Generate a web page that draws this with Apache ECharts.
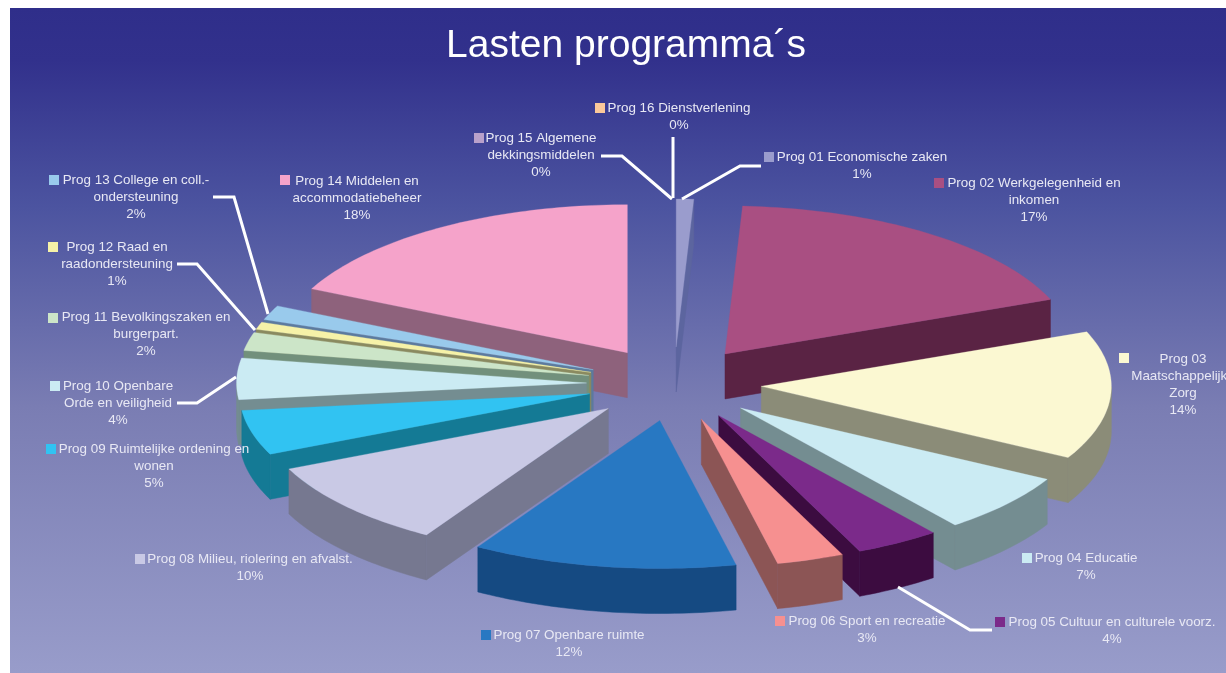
<!DOCTYPE html>
<html>
<head>
<meta charset="utf-8">
<title>Lasten programma´s</title>
<style>
  html, body { margin: 0; padding: 0; background: #fff; overflow: hidden; }
  #chart { width: 1226px; height: 673px; }
</style>
<script src="https://cdn.jsdelivr.net/npm/echarts@6/dist/echarts.min.js"></script>
</head>
<body>
<div id="chart"></div>
<script>
// slice shares, the printed percentages are kept apart
const sliceShares = [0.8, 18.2, 14.0, 6.5, 3.9, 3.1, 12.2, 9.6, 4.9, 4.5, 2.0, 0.8, 1.6, 17.9, 0, 0];
const percentLabels = ['1%', '17%', '14%', '7%', '4%', '3%', '12%', '10%', '5%', '4%', '2%', '1%', '2%', '18%', '0%', '0%'];
const categoryLines = [
  ['Prog 01 Economische zaken'],
  ['Prog 02 Werkgelegenheid en', 'inkomen'],
  ['Prog 03', 'Maatschappelijke', 'Zorg'],
  ['Prog 04 Educatie'],
  ['Prog 05 Cultuur en culturele voorz.'],
  ['Prog 06 Sport en recreatie'],
  ['Prog 07 Openbare ruimte'],
  ['Prog 08 Milieu, riolering en afvalst.'],
  ['Prog 09 Ruimtelijke ordening en', 'wonen'],
  ['Prog 10 Openbare', 'Orde en veiligheid'],
  ['Prog 11 Bevolkingszaken en', 'burgerpart.'],
  ['Prog 12 Raad en', 'raadondersteuning'],
  ['Prog 13 College en coll.-', 'ondersteuning'],
  ['Prog 14 Middelen en', 'accommodatiebeheer'],
  ['Prog 15 Algemene', 'dekkingsmiddelen'],
  ['Prog 16 Dienstverlening'],
];

const topColors = ['#9a9ccd', '#a94f82', '#fbf8d2', '#cbebf3', '#7b2a8a', '#f69090', '#2878c2', '#c9c9e5',
  '#31c3f2', '#cbebf3', '#cce5c8', '#f6f2a8', '#99caec', '#f5a3ca', '#b9a1cb', '#fbc89a'];
const wallColors = ['#5c659f', '#5a2344', '#8b8c78', '#748d91', '#3c0c40', '#8c5555', '#154a82', '#767890',
  '#147a95', '#748d91', '#72907c', '#8a8a60', '#5c7a9e', '#8e627c', '#6c6088', '#8c7a68'];

// pie projection
const CX = 674;
const CY = 384;
const RX = 350;
const RY = 148;
const EXPLODE = 0.25;
const DEPTH = 45;

// label placement: key box x, key box y, text centre x, first line y
const labelLayout = [
  [764, 152, 862, 157], [934, 178, 1034, 183], [1119, 353, 1183, 359], [1022, 553, 1086, 558],
  [995, 617, 1112, 622], [775, 616, 867, 621], [481, 630, 569, 635], [135, 554, 250, 559],
  [46, 444, 154, 449], [50, 381, 118, 386], [48, 313, 146, 317], [48, 242, 117, 247],
  [49, 175, 136, 180], [280, 175, 357, 181], [474, 133, 541, 138], [595, 103, 679, 108],
];
const leaderLines = [
  [[761, 166], [740, 166], [682, 199]],
  [[992, 630], [970, 630], [898, 587]],
  [[177, 403], [197, 403], [236, 377]],
  [[177, 264], [197, 264], [255, 330]],
  [[213, 197], [234, 197], [268, 314]],
  [[601, 156], [622, 156], [672, 199]],
  [[673, 137], [673, 198]],
];

const total = sliceShares.reduce((a, b) => a + b, 0);
const startShares = [];
sliceShares.reduce((sum, v, i) => { startShares[i] = sum; return sum + v; }, 0);
const toAngle = share => (share / total) * 2 * Math.PI;

const renderSlice = (params, api) => {
  const idx = api.value(0);
  const a0 = toAngle(startShares[idx]);
  const a1 = a0 + toAngle(api.value(1));
  const mid = (a0 + a1) / 2;
  const ax = CX + EXPLODE * RX * Math.sin(mid);
  const ay = CY - EXPLODE * RY * Math.cos(mid);
  const rim = a => [ax + RX * Math.sin(a), ay - RY * Math.cos(a)];
  const down = p => [p[0], p[1] + DEPTH];
  const apex = [ax, ay];

  const arc = [];
  const steps = Math.max(2, Math.ceil((a1 - a0) / 0.02));
  for (let i = 0; i <= steps; i++) arc.push(a0 + ((a1 - a0) * i) / steps);

  const children = [];
  const wall = points => children.push({
    type: 'polygon',
    shape: { points },
    style: { fill: wallColors[idx], stroke: wallColors[idx], lineWidth: 0.5 },
  });

  // only the walls facing the viewer
  if (Math.sin(a0) < 0) wall([apex, rim(a0), down(rim(a0)), down(apex)]);
  if (Math.sin(a1) > 0) wall([apex, rim(a1), down(rim(a1)), down(apex)]);
  const front = arc.filter(a => Math.cos(a) < 0);
  if (front.length > 1) {
    wall(front.map(rim).concat(front.slice().reverse().map(a => down(rim(a)))));
  }

  children.push({
    type: 'polygon',
    shape: { points: [apex].concat(arc.map(rim)) },
    style: { fill: topColors[idx], stroke: topColors[idx], lineWidth: 0.3 },
  });
  return { type: 'group', children };
};

// back slices first so the front ones paint over them, empty slices have nothing to draw
const drawOrder = sliceShares.map((v, i) => i).filter(i => sliceShares[i] > 0).sort((a, b) => {
  const midA = toAngle(startShares[a] + sliceShares[a] / 2);
  const midB = toAngle(startShares[b] + sliceShares[b] / 2);
  return Math.cos(midB) - Math.cos(midA);
});

const labelFont = '13.4px "Liberation Sans", Arial, sans-serif';
const labelColor = '#e8e8f4';
const graphics = [];

leaderLines.forEach(points => {
  graphics.push({
    type: 'polyline',
    z: 20,
    shape: { points },
    style: { stroke: '#ffffff', lineWidth: 3, fill: null, lineJoin: 'miter' },
  });
});

labelLayout.forEach((pos, i) => {
  graphics.push({
    type: 'rect',
    z: 21,
    shape: { x: pos[0], y: pos[1], width: 10, height: 10 },
    style: { fill: topColors[i] },
  });
  categoryLines[i].concat(percentLabels[i]).forEach((line, n) => {
    graphics.push({
      type: 'text',
      z: 21,
      style: {
        text: line,
        x: pos[2],
        y: pos[3] + 0.5 + n * 16.8,
        fill: labelColor,
        font: labelFont,
        textAlign: 'center',
        textVerticalAlign: 'middle',
      },
    });
  });
});

graphics.unshift({
  type: 'rect',
  z: -10,
  shape: { x: 10, y: 8, width: 1216, height: 665 },
  style: {
    fill: new echarts.graphic.LinearGradient(0, 0, 0, 1, [
      { offset: 0, color: '#2f2e8a' },
      { offset: 0.08, color: '#32318c' },
      { offset: 0.3, color: '#4c54a0' },
      { offset: 0.6, color: '#7a7db3' },
      { offset: 1, color: '#989cca' },
    ]),
  },
});

const chart = echarts.init(document.getElementById('chart'), null, { renderer: 'canvas' });
chart.setOption({
  animation: false,
  backgroundColor: '#ffffff',
  title: {
    text: 'Lasten programma´s',
    left: 621,
    top: 22,
    textAlign: 'center',
    textStyle: { color: '#ffffff', fontSize: 39, fontWeight: 'normal', fontFamily: '"Liberation Sans", Arial, sans-serif' },
  },
  graphic: { elements: graphics },
  series: [
    {
      type: 'custom',
      coordinateSystem: 'none',
      silent: true,
      z: 5,
      renderItem: renderSlice,
      data: drawOrder.map(i => [i, sliceShares[i]]),
    },
  ],
});
</script>
</body>
</html>
